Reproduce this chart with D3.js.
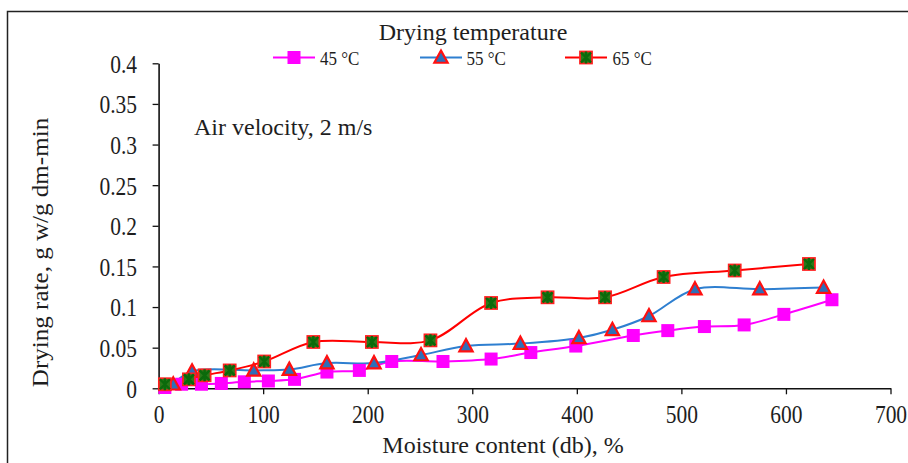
<!DOCTYPE html>
<html><head><meta charset="utf-8">
<script src="https://cdn.jsdelivr.net/npm/d3@7"></script>
<style>body{margin:0;background:#fff}svg{display:block}</style>
</head><body><svg id="c" width="908" height="463"></svg>
<script>
const xTicks = [0,100,200,300,400,500,600,700];
const yTicks = [0,0.05,0.1,0.15,0.2,0.25,0.3,0.35,0.4];
const yTickLabels = ["0","0.05","0.1","0.15","0.2","0.25","0.3","0.35","0.4"];
const seriesNames = ["45 °C","55 °C","65 °C"];
const moisture45 = [6,22,41,60,82,105,130,161,192,223,272,318,356,399,454,487,522,560,598,644];
const rate45 = [0.001,0.005,0.005,0.006,0.008,0.009,0.011,0.020,0.022,0.033,0.033,0.036,0.044,0.052,0.065,0.071,0.076,0.078,0.091,0.109];
const moisture55 = [14,32,91,125,161,206,251,294,346,402,434,469,513,575,636];
const rate55 = [0.005,0.021,0.022,0.023,0.031,0.031,0.041,0.052,0.055,0.062,0.072,0.089,0.122,0.122,0.124];
const moisture65 = [6,29,44,68,101,148,204,260,318,372,427,483,551,622];
const rate65 = [0.005,0.011,0.016,0.022,0.033,0.057,0.057,0.059,0.105,0.112,0.112,0.137,0.145,0.153];

const FONT = '"Liberation Serif"';
const TXT = "#1e1e1e";
const svg = d3.select("#c");
svg.append("rect").attr("x",7.5).attr("y",11.5).attr("width",920).attr("height",470)
  .attr("fill","none").attr("stroke","#222").attr("stroke-width",1.5);

const x = d3.scaleLinear().domain([0,700]).range([158.6,890.5]);
const y = d3.scaleLinear().domain([0,0.4]).range([388.3,63.3]);

const xAxis = svg.append("g").attr("transform","translate(0,388.3)")
  .call(d3.axisBottom(x).tickValues(xTicks).tickSize(6).tickSizeOuter(0));
const yAxis = svg.append("g").attr("transform","translate(158.6,0)")
  .call(d3.axisLeft(y).tickValues(yTicks).tickFormat((d,i)=>yTickLabels[i]).tickSize(6).tickSizeOuter(0));
[xAxis,yAxis].forEach(g=>{
  g.selectAll("path").attr("stroke","#111").attr("stroke-width",1.6);
  g.selectAll("line").attr("stroke","#111").attr("stroke-width",1.3);
  g.selectAll("text").style("font-family",FONT).style("font-size","21.5px").attr("fill",TXT);
});
xAxis.selectAll("text").attr("y",0).attr("dy","0").attr("transform","translate(0,35) scale(1,1.18)");
yAxis.selectAll("text").attr("x",0).attr("dy","0.35em").attr("transform","translate(-21.6,0) scale(1,1.18)");

function txt(s, tx, ty, size, anchor, extra){
  return svg.append("text").attr("transform",`translate(${tx},${ty}) ${extra||""}`)
    .attr("text-anchor",anchor||"start").style("font-family",FONT).style("font-size",size+"px").attr("fill",TXT).text(s);
}
txt("Moisture content (db), %",503,453,24,"middle");
txt("Drying rate, g w/g dm-min",48,252.5,23,"middle","rotate(-90) scale(1.09,1)");
txt("Air velocity, 2 m/s",194,135,24,"start");
txt("Drying temperature",473,40,24,"middle");

const line = d3.line().x(d=>x(d[0])).y(d=>y(d[1])).curve(d3.curveCatmullRom.alpha(0.5));
const d45 = moisture45.map((m,i)=>[m,rate45[i]]);
const d55 = moisture55.map((m,i)=>[m,rate55[i]]);
const d65 = moisture65.map((m,i)=>[m,rate65[i]]);

const col45="#FF00FF", col55="#2E7FD0", col65="#FF0000";
svg.append("path").attr("d",line(d45)).attr("fill","none").attr("stroke",col45).attr("stroke-width",2);
svg.append("path").attr("d",line(d55)).attr("fill","none").attr("stroke",col55).attr("stroke-width",2);
svg.append("path").attr("d",line(d65)).attr("fill","none").attr("stroke",col65).attr("stroke-width",2);

function sq(g,cx,cy){ g.append("rect").attr("x",cx-6.5).attr("y",cy-6.5).attr("width",13).attr("height",13).attr("fill",col45); }
function tri(g,cx,cy){ const s=7; g.append("path").attr("d",`M${cx},${cy-s}L${cx+s*0.95},${cy+s*0.75}L${cx-s*0.95},${cy+s*0.75}Z`).attr("fill","#2E6FB8").attr("stroke","#FF1010").attr("stroke-width",2.2); }
function star(g,cx,cy){
  g.append("rect").attr("x",cx-6).attr("y",cy-6).attr("width",12).attr("height",12).attr("fill","#2A7A1A").attr("stroke","#FF2020").attr("stroke-width",1.8);
  g.append("path").attr("d",`M${cx-5},${cy-5}L${cx+5},${cy+5}M${cx+5},${cy-5}L${cx-5},${cy+5}M${cx},${cy-6}L${cx},${cy+6}`).attr("stroke","#0B6A0B").attr("stroke-width",2.4);
}
const g45=svg.append("g"), g55=svg.append("g"), g65=svg.append("g");
d45.forEach(d=>sq(g45,x(d[0]),y(d[1])));
d55.forEach(d=>tri(g55,x(d[0]),y(d[1])));
d65.forEach(d=>star(g65,x(d[0]),y(d[1])));

// legend
const leg = svg.append("g");
const legX = [273,420,565], legText=[320,466.5,612.5], legColors=[col45,col55,col65], markers=[sq,tri,star];
legX.forEach((lx,i)=>{
  leg.append("line").attr("x1",lx).attr("x2",lx+42).attr("y1",57.5).attr("y2",57.5).attr("stroke",legColors[i]).attr("stroke-width",2);
  markers[i](leg,lx+21,57.5);
  txt(seriesNames[i],legText[i],64.5,17,"start","scale(1,1.15)");
});
</script></body></html>
